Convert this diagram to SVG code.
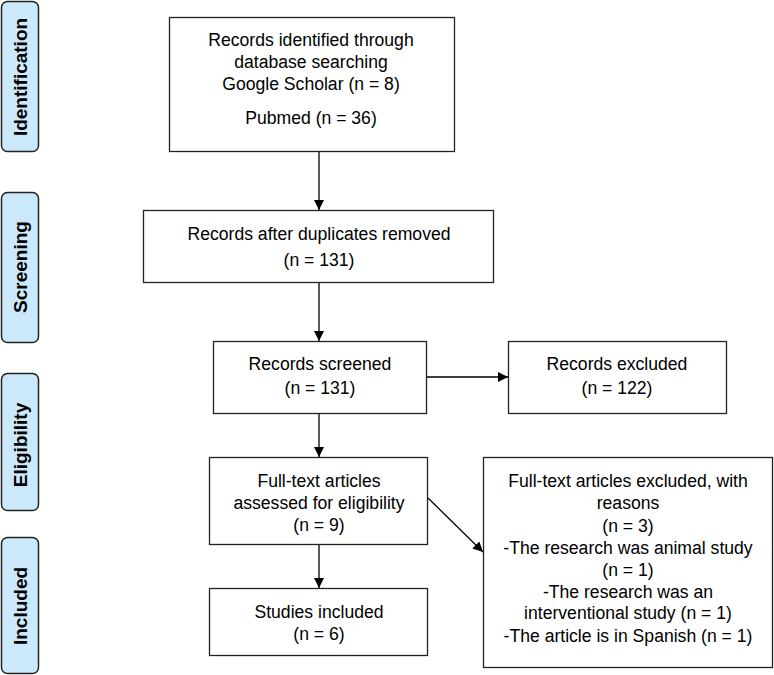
<svg xmlns="http://www.w3.org/2000/svg" width="774" height="675" viewBox="0 0 774 675">
<defs>
<marker id="ah" viewBox="0 0 10 10" refX="10" refY="5" markerWidth="10" markerHeight="10" markerUnits="userSpaceOnUse" orient="auto">
<path d="M0,0 L10,5 L0,10 z" fill="#000"/>
</marker>
<style>
.side rect{fill:#cce9fb;stroke:#222;stroke-width:1.5}
.side text{font-family:"Liberation Sans",Arial,sans-serif;font-size:19px;font-weight:bold;fill:#000;text-anchor:middle;dominant-baseline:central}
.node rect{fill:#fff;stroke:#222;stroke-width:1.3}
.node text{font-family:"Liberation Sans",Arial,sans-serif;font-size:17.6px;fill:#000;text-anchor:middle;dominant-baseline:central}
.conn line{stroke:#000;stroke-width:1.3;marker-end:url(#ah)}
</style>
</defs>
<rect width="774" height="675" fill="#fff"/>
<g id="side-identification" class="side"><rect x="1.5" y="1.5" width="37" height="150" rx="6"/><text transform="translate(20.5 77) rotate(-90)">Identification</text></g>
<g id="side-screening" class="side"><rect x="1.5" y="192.5" width="37" height="150" rx="6"/><text transform="translate(20.5 267) rotate(-90)">Screening</text></g>
<g id="side-eligibility" class="side"><rect x="1.5" y="373.5" width="37" height="137" rx="6"/><text transform="translate(20.5 445) rotate(-90)">Eligibility</text></g>
<g id="side-included" class="side"><rect x="1.5" y="537.5" width="37" height="136" rx="6"/><text transform="translate(20.5 606) rotate(-90)">Included</text></g>

<g id="identified" class="node"><rect x="169.5" y="17.5" width="285" height="134"/>
<text x="311" y="40">Records identified through</text>
<text x="311" y="62">database searching</text>
<text x="311" y="84">Google Scholar (n = 8)</text>
<text x="311" y="118">Pubmed (n = 36)</text></g>
<g id="duplicates" class="node"><rect x="143.5" y="210.5" width="350" height="72"/>
<text x="319" y="234">Records after duplicates removed</text>
<text x="319" y="260">(n = 131)</text></g>
<g id="screened" class="node"><rect x="213.5" y="341.5" width="213" height="72"/>
<text x="320" y="364">Records screened</text>
<text x="320" y="388">(n = 131)</text></g>
<g id="excluded" class="node"><rect x="508.5" y="341.5" width="218" height="72"/>
<text x="617" y="364">Records excluded</text>
<text x="617" y="388">(n = 122)</text></g>
<g id="fulltext" class="node"><rect x="209.5" y="457.5" width="218" height="87"/>
<text x="319" y="481">Full-text articles</text>
<text x="319" y="503">assessed for eligibility</text>
<text x="319" y="525">(n = 9)</text></g>
<g id="fulltext-excluded" class="node"><rect x="483.5" y="457.5" width="289" height="210"/>
<text x="628" y="481">Full-text articles excluded, with</text>
<text x="628" y="503">reasons</text>
<text x="628" y="526">(n = 3)</text>
<text x="628" y="548">-The research was animal study</text>
<text x="628" y="570">(n = 1)</text>
<text x="628" y="592">-The research was an</text>
<text x="628" y="613">interventional study (n = 1)</text>
<text x="628" y="636">-The article is in Spanish (n = 1)</text></g>
<g id="included" class="node"><rect x="209.5" y="588.5" width="218" height="67"/>
<text x="319" y="612">Studies included</text>
<text x="319" y="634">(n = 6)</text></g>

<g id="connectors" class="conn">
<line x1="319" y1="152" x2="319" y2="210"/>
<line x1="319" y1="283" x2="319" y2="341"/>
<line x1="427" y1="377" x2="508" y2="377"/>
<line x1="319" y1="414" x2="319" y2="457"/>
<line x1="428" y1="498" x2="483" y2="552"/>
<line x1="319" y1="545" x2="319" y2="588"/>
</g>
</svg>
